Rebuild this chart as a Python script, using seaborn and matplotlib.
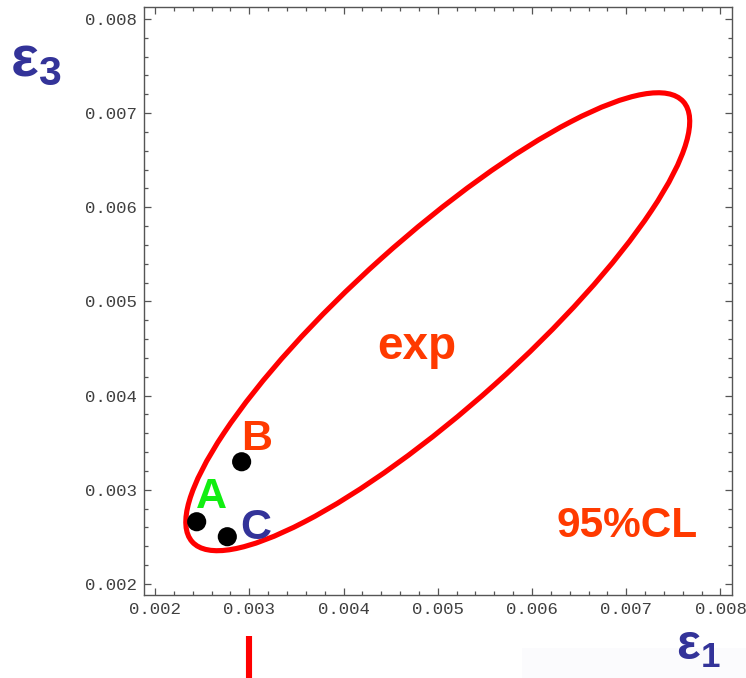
import matplotlib
matplotlib.use("Agg")
import matplotlib.pyplot as plt
import matplotlib.transforms as mtransforms
from matplotlib.patches import Ellipse, Rectangle
from matplotlib.ticker import MultipleLocator, FixedLocator, FixedFormatter
import pandas as pd
import seaborn as sns

# --- data -------------------------------------------------------------
point_names = ["A", "B", "C"]
eps1_vals = [0.002442, 0.002919, 0.002767]
eps3_vals = [0.002661, 0.003298, 0.002502]
point_label_colors = ["#11ee11", "#ff3a00", "#333399"]
point_label_pos = [(0.002430, 0.002804), (0.002910, 0.003423), (0.002900, 0.002478)]

# 95% CL region of the experimental fit (centre, full axes, tilt in degrees)
cl_center = (0.005000, 0.004785)
cl_width = 0.0070
cl_height = 0.0018
cl_angle = 41.9

tick_values = [0.002, 0.003, 0.004, 0.005, 0.006, 0.007, 0.008]
tick_labels = ["0.002", "0.003", "0.004", "0.005", "0.006", "0.007", "0.008"]

x_limits = (0.001883, 0.008119)
y_limits = (0.001883, 0.008124)

df = pd.DataFrame({"name": point_names, "eps1": eps1_vals, "eps3": eps3_vals})

# --- figure -----------------------------------------------------------
sns.set_style("ticks")
plt.rcParams["font.family"] = ["Liberation Sans", "DejaVu Sans"]
plt.rcParams["mathtext.fontset"] = "dejavusans"

fig = plt.figure(figsize=(7.46, 6.78), dpi=100)
ax = fig.add_axes([144 / 746, 1 - 595 / 678, (731.7 - 144) / 746, (595 - 7.3) / 678])

# faint panel in the lower right corner
fig.patches.append(Rectangle((522 / 746, 0), 1 - 522 / 746, 30 / 678,
                             transform=fig.transFigure, facecolor="#fbfbfd",
                             edgecolor="none", zorder=0))

ell = Ellipse(cl_center, cl_width, cl_height, angle=cl_angle,
              facecolor="none", edgecolor="#ff0000", linewidth=3.7, zorder=2)
ax.add_patch(ell)

sns.scatterplot(data=df, x="eps1", y="eps3", color="black", s=190,
                edgecolor="none", ax=ax, zorder=3, legend=False)

for name, col, (px, py) in zip(point_names, point_label_colors, point_label_pos):
    ax.text(px, py, name, color=col, fontsize=31, fontweight="bold",
            ha="left", va="baseline", zorder=4)

ax.text(0.004777, 0.004386, "exp", color="#ff3a00", fontsize=33,
        fontweight="bold", ha="center", va="baseline")
ax.text(0.007005, 0.002502, "95%CL", color="#ff3a00", fontsize=30.5,
        fontweight="bold", ha="center", va="baseline")

ax.set_xlim(*x_limits)
ax.set_ylim(*y_limits)
ax.set_xlabel("")
ax.set_ylabel("")

for axis in (ax.xaxis, ax.yaxis):
    axis.set_major_locator(FixedLocator(tick_values))
    axis.set_major_formatter(FixedFormatter(tick_labels))
    axis.set_minor_locator(MultipleLocator(0.0002))

ax.tick_params(which="both", direction="in", top=True, right=True,
               color="#555555", width=0.9, pad=5)
ax.tick_params(which="major", length=5)
ax.tick_params(which="minor", length=3)
for lab in ax.get_xticklabels() + ax.get_yticklabels():
    lab.set_fontfamily("Liberation Mono")
    lab.set_fontsize(12.5)
    lab.set_color("#404040")

for sp in ax.spines.values():
    sp.set_visible(True)
    sp.set_color("#555555")
    sp.set_linewidth(1.0)

# red marker below the axis at eps1 = 0.003
trans = mtransforms.blended_transform_factory(ax.transData, ax.transAxes)
ax.plot([0.003, 0.003], [-0.0698, -0.16], color="#ff0000", linewidth=4.4,
        solid_capstyle="butt", transform=trans, clip_on=False)

# axis symbols
sym_color = "#333399"
fig.text(10 / 746, 1 - 76 / 678, r"$\mathregular{ε_{3}}$", color=sym_color,
         fontsize=42, fontweight="bold", ha="left", va="baseline")
fig.text(676 / 746, 1 - 660 / 678, r"$\mathregular{ε_{1}}$", color=sym_color,
         fontsize=36, fontweight="bold", ha="left", va="baseline")

fig.savefig("out.png", dpi=100)
